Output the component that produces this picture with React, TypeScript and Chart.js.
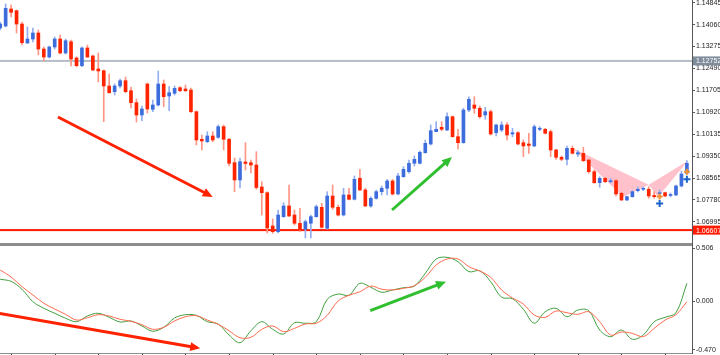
import React, { useEffect, useRef } from 'react';
import { Chart, registerables } from 'chart.js';
Chart.register(...registerables);

// ---------- DATA ----------
const opens = [1.13939,1.14011,1.14620,1.14559,1.14082,1.13402,1.13545,1.13760,1.13187,1.12900,1.13259,1.13545,1.13044,1.13448,1.12865,1.12589,1.13223,1.12936,1.12471,1.12410,1.11862,1.11658,1.11862,1.12052,1.11693,1.11264,1.10823,1.11933,1.11027,1.11181,1.11933,1.11504,1.11600,1.11801,1.11754,1.11718,1.10941,1.09953,1.09867,1.10071,1.10024,1.10404,1.09953,1.09115,1.08495,1.09140,1.09115,1.09032,1.08244,1.08040,1.06847,1.06643,1.07181,1.07564,1.07241,1.06944,1.06729,1.06944,1.07181,1.07517,1.06765,1.07922,1.07517,1.07241,1.07958,1.07804,1.08556,1.08137,1.07564,1.07839,1.08076,1.08198,1.08459,1.07994,1.08613,1.08792,1.09093,1.09093,1.09473,1.09784,1.10225,1.10383,1.10286,1.10762,1.10046,1.09831,1.11002,1.11181,1.11063,1.10823,1.10941,1.10189,1.10286,1.10465,1.10143,1.10189,1.09831,1.09784,1.09713,1.10311,1.10311,1.10225,1.09569,1.09308,1.09236,1.09630,1.09426,1.09451,1.09211,1.08792,1.08398,1.08556,1.08434,1.08470,1.08019,1.07779,1.07897,1.08112,1.08162,1.08162,1.07940,1.08004,1.08040,1.07940,1.07958,1.08280,1.08735];
const closes = [1.14082,1.14645,1.14501,1.14082,1.13413,1.13545,1.13760,1.13187,1.12900,1.13259,1.13545,1.13044,1.13484,1.12829,1.12589,1.13223,1.12900,1.12435,1.12399,1.11862,1.11622,1.11862,1.12052,1.11658,1.11264,1.10823,1.11038,1.11038,1.11181,1.11933,1.11478,1.11622,1.11779,1.11693,1.11693,1.10941,1.09928,1.09892,1.10071,1.09928,1.10404,1.09953,1.09093,1.08495,1.09150,1.09086,1.09032,1.08226,1.08040,1.06776,1.06643,1.07241,1.07564,1.07206,1.06944,1.06704,1.07001,1.07181,1.07539,1.06801,1.07922,1.07517,1.07241,1.07958,1.07804,1.08520,1.08137,1.07564,1.07839,1.08076,1.08198,1.08459,1.07994,1.08638,1.08878,1.09093,1.09236,1.09487,1.09809,1.10261,1.10311,1.10311,1.10762,1.10046,1.09831,1.11002,1.11385,1.11063,1.10762,1.10941,1.10143,1.10465,1.10465,1.10107,1.10189,1.09784,1.09713,1.09731,1.10404,1.10347,1.10168,1.09569,1.09308,1.09236,1.09630,1.09451,1.09473,1.09186,1.08792,1.08398,1.08556,1.08434,1.08459,1.07994,1.07779,1.07897,1.08076,1.08162,1.08198,1.07922,1.07897,1.08040,1.07922,1.07976,1.08280,1.08710,1.09093];
const highs = [1.14154,1.14799,1.14763,1.14584,1.14154,1.13975,1.13939,1.13867,1.13259,1.13294,1.13617,1.13688,1.13545,1.13509,1.12911,1.13269,1.13330,1.12972,1.13044,1.12435,1.12292,1.11933,1.12112,1.12184,1.11826,1.11396,1.11145,1.11969,1.11360,1.12399,1.12077,1.11837,1.11862,1.11837,1.11898,1.11790,1.10966,1.10107,1.10225,1.10225,1.10465,1.10465,1.09989,1.09283,1.09283,1.09831,1.09211,1.09509,1.08434,1.08076,1.07098,1.07420,1.07682,1.08316,1.07420,1.07481,1.07062,1.07241,1.07600,1.07660,1.08076,1.08316,1.07600,1.08198,1.08198,1.08638,1.08878,1.08198,1.07897,1.08137,1.08280,1.08520,1.08520,1.08735,1.08971,1.09211,1.09355,1.09534,1.09928,1.10465,1.10583,1.10583,1.10905,1.10787,1.10311,1.11063,1.11478,1.11478,1.11145,1.11099,1.11002,1.10501,1.10583,1.10547,1.10347,1.10225,1.09928,1.10168,1.10465,1.10404,1.10347,1.10286,1.09595,1.09355,1.09713,1.09713,1.09544,1.09666,1.09236,1.08853,1.08613,1.08592,1.08556,1.08520,1.08065,1.07922,1.08112,1.08244,1.08244,1.08255,1.08076,1.08137,1.08065,1.08029,1.08316,1.08817,1.09186];
const lows = [1.13867,1.13975,1.14333,1.13760,1.13330,1.13384,1.13438,1.12972,1.12757,1.12865,1.13187,1.13008,1.13008,1.12578,1.12542,1.12553,1.12890,1.12410,1.12005,1.10583,1.11600,1.11539,1.11790,1.11622,1.11074,1.10572,1.10619,1.10895,1.10941,1.11145,1.11120,1.10977,1.11539,1.11658,1.11658,1.10905,1.09749,1.09569,1.09831,1.09867,1.09989,1.09569,1.08996,1.08076,1.08208,1.08853,1.08746,1.08162,1.07241,1.06597,1.06586,1.06597,1.07159,1.07181,1.06883,1.06643,1.06418,1.06418,1.07159,1.06765,1.06729,1.07446,1.07206,1.07206,1.07779,1.07779,1.08112,1.07539,1.07517,1.07804,1.07958,1.07958,1.07958,1.07958,1.08592,1.08735,1.08996,1.09068,1.09451,1.09749,1.10225,1.10261,1.10261,1.10024,1.09605,1.09809,1.10941,1.10884,1.10705,1.10669,1.10107,1.10071,1.10225,1.09928,1.10046,1.09749,1.09330,1.09451,1.09688,1.10261,1.10143,1.09330,1.09236,1.09186,1.09032,1.09426,1.09330,1.09150,1.08735,1.08377,1.08234,1.08398,1.08387,1.07922,1.07754,1.07754,1.07875,1.08065,1.08112,1.07839,1.07839,1.07897,1.07897,1.07886,1.07933,1.08244,1.08710];

const priceTicks = [1.14845,1.14060,1.13275,1.12490,1.11705,1.10920,1.10135,1.09350,1.08565,1.07780,1.06995];
const priceMin = 1.06238;
const priceMax = 1.14942;

const grayLevel = 1.1276;
const grayLabel = '1.12752';
const redLevel = 1.0670;
const redLabel = '1.06607';

// harmonic pattern points X, A, B, C, D (bar index, price)
const patternIdx = [105, 114.3, 119, 120.7, 126.2];
const patternPrice = [1.0964, 1.0789, 1.0832, 1.0789, 1.0918];

const markIdx = [121, 126];
const orangeMarks = [1.0790, 1.0879];
const blueMarks = [1.0765, 1.0852];

// arrows [fromIdx, fromVal, toIdx, toVal]
const mainRedArrow = [10.6, 1.1075, 39.0, 1.0789];
const mainGreenArrow = [71.9, 1.0742, 82.9, 1.0932];
const oscRedArrow = [-0.5, -0.115, 36.7, -0.455];
const oscGreenArrow = [67.9, -0.093, 81.8, 0.186];

const oscIdx = [0,2,4,6,8,10,12,14,16,18,20,22,24,26,28,30,32,34,36,38,40,42,44,46,48,50,52,54,56,58,60,62,64,66,68,70,72,74,76,78,80,82,84,86,88,90,92,94,96,98,100,102,104,106,108,110,112,114,116,118,120,122,124,126];
const oscRed = [0.298,0.231,0.138,0.058,-0.022,-0.077,-0.128,-0.183,-0.161,-0.132,-0.144,-0.176,-0.195,-0.228,-0.272,-0.253,-0.192,-0.151,-0.141,-0.183,-0.224,-0.286,-0.353,-0.349,-0.272,-0.240,-0.295,-0.263,-0.221,-0.214,-0.138,0.000,0.055,0.089,0.144,0.113,0.106,0.122,0.147,0.228,0.346,0.404,0.404,0.330,0.288,0.228,0.106,0.029,-0.029,-0.135,-0.157,-0.096,-0.113,-0.128,-0.103,-0.199,-0.327,-0.298,-0.311,-0.343,-0.263,-0.183,-0.132,-0.007];
const oscGreen = [0.209,0.189,0.113,-0.007,-0.070,-0.118,-0.166,-0.199,-0.144,-0.118,-0.157,-0.202,-0.192,-0.240,-0.291,-0.253,-0.163,-0.132,-0.138,-0.199,-0.221,-0.327,-0.401,-0.286,-0.199,-0.272,-0.317,-0.209,-0.214,-0.199,0.016,0.067,0.055,0.170,0.132,0.084,0.106,0.128,0.144,0.266,0.404,0.420,0.378,0.282,0.291,0.186,0.036,0.022,-0.080,-0.214,-0.103,-0.070,-0.151,-0.087,-0.093,-0.279,-0.343,-0.279,-0.368,-0.327,-0.199,-0.157,-0.113,0.170];
const oscTicks = [0.506, 0.0, -0.47];
const oscMin = -0.500;
const oscMax = 0.529;

const timeTicks = [2,10,18,26,34,42,50,58,66,74,82,90,98,106,114,122];

const xMin = -0.037;
const xMax = 126.94;

// ---------- STYLE ----------
const BULL = '#3d6cdc';
const BEAR = '#ff2400';
const BULL_WICK = '#93aef0';
const BEAR_WICK = '#ff9585';
const ARROW_RED = '#ff2200';
const ARROW_GREEN = '#2fbf2f';
const AXIS = '#555555';
const FONT = '7px "Liberation Sans", Arial, sans-serif';

function drawArrow(ctx: CanvasRenderingContext2D, x1: number, y1: number, x2: number, y2: number, color: string) {
  const ang = Math.atan2(y2 - y1, x2 - x1);
  const head = 10, hw = 4.5;
  const c = Math.cos(ang), s = Math.sin(ang);
  const bx = x2 - head * c, by = y2 - head * s;
  ctx.save();
  ctx.strokeStyle = color;
  ctx.fillStyle = color;
  ctx.lineWidth = 3;
  ctx.lineCap = 'butt';
  ctx.beginPath();
  ctx.moveTo(x1, y1);
  ctx.lineTo(bx + c, by + s);
  ctx.stroke();
  ctx.beginPath();
  ctx.moveTo(x2, y2);
  ctx.lineTo(bx - hw * s, by + hw * c);
  ctx.lineTo(bx + hw * s, by - hw * c);
  ctx.closePath();
  ctx.fill();
  ctx.restore();
}

function axisLabel(ctx: CanvasRenderingContext2D, chart: any, y: number, text: string, bg: string) {
  const x0 = chart.chartArea.right + 1;
  ctx.save();
  ctx.fillStyle = bg;
  ctx.fillRect(x0, y - 4.5, chart.width - x0, 9);
  ctx.fillStyle = '#ffffff';
  ctx.font = FONT;
  ctx.textBaseline = 'middle';
  ctx.textAlign = 'left';
  ctx.fillText(text, x0 + 3, y + 0.5);
  ctx.restore();
}

const fitRight = (s: any) => {
  s.width = 28;
  s.paddingTop = 0;
  s.paddingBottom = 0;
  s.paddingLeft = 0;
  s.paddingRight = 0;
};

export default function App() {
  const mainRef = useRef<HTMLCanvasElement>(null);
  const oscRef = useRef<HTMLCanvasElement>(null);

  useEffect(() => {
    const idx = opens.map((_, i) => i);
    const isBull = (i: number) => closes[i] >= opens[i];

    const mainPlugin = {
      id: 'mainDecor',
      beforeDatasetsDraw(chart: any) {
        const { ctx, chartArea: a, scales } = chart;
        const X = scales.x, Y = scales.y;
        ctx.save();
        ctx.beginPath();
        ctx.rect(a.left, a.top, a.right - a.left, a.bottom - a.top);
        ctx.clip();
        const px = patternIdx.map((v) => X.getPixelForValue(v));
        const py = patternPrice.map((v) => Y.getPixelForValue(v));
        ctx.fillStyle = '#ffc2cc';
        [[0, 1, 2], [2, 3, 4]].forEach((t) => {
          ctx.beginPath();
          ctx.moveTo(px[t[0]], py[t[0]]);
          ctx.lineTo(px[t[1]], py[t[1]]);
          ctx.lineTo(px[t[2]], py[t[2]]);
          ctx.closePath();
          ctx.fill();
        });
        const gy = Y.getPixelForValue(grayLevel);
        ctx.fillStyle = '#b4bcc6';
        ctx.fillRect(a.left, gy - 1, a.right - a.left, 2);
        const ry = Y.getPixelForValue(redLevel);
        ctx.fillStyle = '#ff1a00';
        ctx.fillRect(a.left, ry - 1, a.right - a.left, 2);
        ctx.restore();
      },
      afterDatasetsDraw(chart: any) {
        const { ctx, scales } = chart;
        const X = scales.x, Y = scales.y;
        const arr = (a: number[], col: string) =>
          drawArrow(ctx, X.getPixelForValue(a[0]), Y.getPixelForValue(a[1]), X.getPixelForValue(a[2]), Y.getPixelForValue(a[3]), col);
        arr(mainRedArrow, ARROW_RED);
        arr(mainGreenArrow, ARROW_GREEN);
      },
      afterDraw(chart: any) {
        const { ctx, scales } = chart;
        const Y = scales.y;
        axisLabel(ctx, chart, Y.getPixelForValue(grayLevel), grayLabel, '#7f8c9b');
        axisLabel(ctx, chart, Y.getPixelForValue(redLevel), redLabel, '#ff1a00');
      },
    };

    const main = new Chart(mainRef.current as HTMLCanvasElement, {
      type: 'bar',
      data: {
        datasets: [
          {
            type: 'bar',
            label: 'wick',
            data: idx.map((i) => ({ x: i, y: [lows[i], highs[i]] })) as any,
            backgroundColor: idx.map((i) => (isBull(i) ? BULL_WICK : BEAR_WICK)),
            barThickness: 1,
            grouped: false,
            order: 3,
          } as any,
          {
            type: 'bar',
            label: 'body',
            data: idx.map((i) => ({ x: i, y: [opens[i], closes[i]] })) as any,
            backgroundColor: idx.map((i) => (isBull(i) ? BULL : BEAR)),
            barThickness: 3,
            minBarLength: 1,
            grouped: false,
            order: 2,
          } as any,
          {
            type: 'line',
            label: 'orange',
            data: markIdx.map((k, i) => ({ x: k, y: orangeMarks[i] })),
            showLine: false,
            pointStyle: 'cross',
            pointRadius: 3,
            borderWidth: 2,
            borderColor: '#f39233',
            order: 1,
          } as any,
          {
            type: 'line',
            label: 'blue',
            data: markIdx.map((k, i) => ({ x: k, y: blueMarks[i] })),
            showLine: false,
            pointStyle: 'cross',
            pointRadius: 3.5,
            borderWidth: 2,
            borderColor: '#1a63c9',
            order: 1,
          } as any,
        ],
      },
      options: {
        animation: false,
        responsive: false,
        devicePixelRatio: 1,
        layout: { padding: 0, autoPadding: false },
        plugins: { legend: { display: false }, tooltip: { enabled: false } },
        events: [],
        scales: {
          x: { type: 'linear', min: xMin, max: xMax, display: false, offset: false, grid: { offset: false } },
          y: {
            type: 'linear',
            position: 'right',
            min: priceMin,
            max: priceMax,
            beginAtZero: false,
            afterBuildTicks: (s: any) => { s.ticks = priceTicks.map((v) => ({ value: v })); },
            afterFit: fitRight,
            ticks: {
              autoSkip: false,
              padding: 1,
              color: '#222',
              font: { family: '"Liberation Sans", Arial, sans-serif', size: 7 },
              callback: (v: any) => Number(v).toFixed(5),
            },
            grid: { drawOnChartArea: false, tickLength: 3, color: AXIS },
            border: { display: true, color: AXIS, width: 1 },
          },
        },
      } as any,
      plugins: [mainPlugin],
    });

    const oscPlugin = {
      id: 'oscDecor',
      afterDatasetsDraw(chart: any) {
        const { ctx, scales, chartArea: a } = chart;
        const X = scales.x, Y = scales.y;
        ctx.save();
        ctx.beginPath();
        ctx.rect(a.left, a.top, a.right - a.left, a.bottom - a.top);
        ctx.clip();
        const arr = (p: number[], col: string) =>
          drawArrow(ctx, X.getPixelForValue(p[0]), Y.getPixelForValue(p[1]), X.getPixelForValue(p[2]), Y.getPixelForValue(p[3]), col);
        arr(oscRedArrow, ARROW_RED);
        arr(oscGreenArrow, ARROW_GREEN);
        ctx.restore();
      },
      afterDraw(chart: any) {
        const { ctx, scales, chartArea: a } = chart;
        const X = scales.x;
        ctx.save();
        ctx.fillStyle = '#8f8f8f';
        ctx.fillRect(a.left, a.bottom, a.right - a.left, 1);
        ctx.fillStyle = '#444';
        timeTicks.forEach((k) => {
          const x = Math.round(X.getPixelForValue(k));
          ctx.fillRect(x, a.bottom + 1, 1, 2);
        });
        ctx.restore();
      },
    };

    const osc = new Chart(oscRef.current as HTMLCanvasElement, {
      type: 'line',
      data: {
        datasets: [
          {
            label: 'signal',
            data: oscIdx.map((k, i) => ({ x: k, y: oscRed[i] })),
            borderColor: '#ff6a4f',
            borderWidth: 1,
            pointRadius: 0,
            tension: 0.35,
          },
          {
            label: 'main',
            data: oscIdx.map((k, i) => ({ x: k, y: oscGreen[i] })),
            borderColor: '#3f9f3f',
            borderWidth: 1,
            pointRadius: 0,
            tension: 0.35,
          },
        ],
      },
      options: {
        animation: false,
        responsive: false,
        devicePixelRatio: 1,
        layout: { padding: { top: 3, bottom: 2, left: 0, right: 0 }, autoPadding: false },
        plugins: { legend: { display: false }, tooltip: { enabled: false } },
        events: [],
        scales: {
          x: { type: 'linear', min: xMin, max: xMax, display: false },
          y: {
            type: 'linear',
            position: 'right',
            min: oscMin,
            max: oscMax,
            afterBuildTicks: (s: any) => { s.ticks = oscTicks.map((v) => ({ value: v })); },
            afterFit: fitRight,
            ticks: {
              autoSkip: false,
              padding: 1,
              color: '#222',
              font: { family: '"Liberation Sans", Arial, sans-serif', size: 7 },
              callback: (v: any) => Number(v).toFixed(3),
            },
            grid: { drawOnChartArea: false, tickLength: 3, color: AXIS },
            border: { display: true, color: AXIS, width: 1 },
          },
        },
      } as any,
      plugins: [oscPlugin],
    });

    return () => {
      main.destroy();
      osc.destroy();
    };
  }, []);

  return (
    <div style={{ position: 'fixed', left: 0, top: 0, width: 720, height: 355, background: '#fff', overflow: 'hidden' }}>
      <canvas ref={mainRef} width={720} height={243} style={{ position: 'absolute', left: 0, top: 0, width: 720, height: 243 }} />
      <div style={{ position: 'absolute', left: 0, top: 243, width: 692, height: 3, background: '#8c8c8c' }} />
      <div style={{ position: 'absolute', left: 692, top: 243, width: 1, height: 3, background: AXIS }} />
      <canvas ref={oscRef} width={720} height={112} style={{ position: 'absolute', left: 0, top: 243, width: 720, height: 112 }} />
    </div>
  );
}
